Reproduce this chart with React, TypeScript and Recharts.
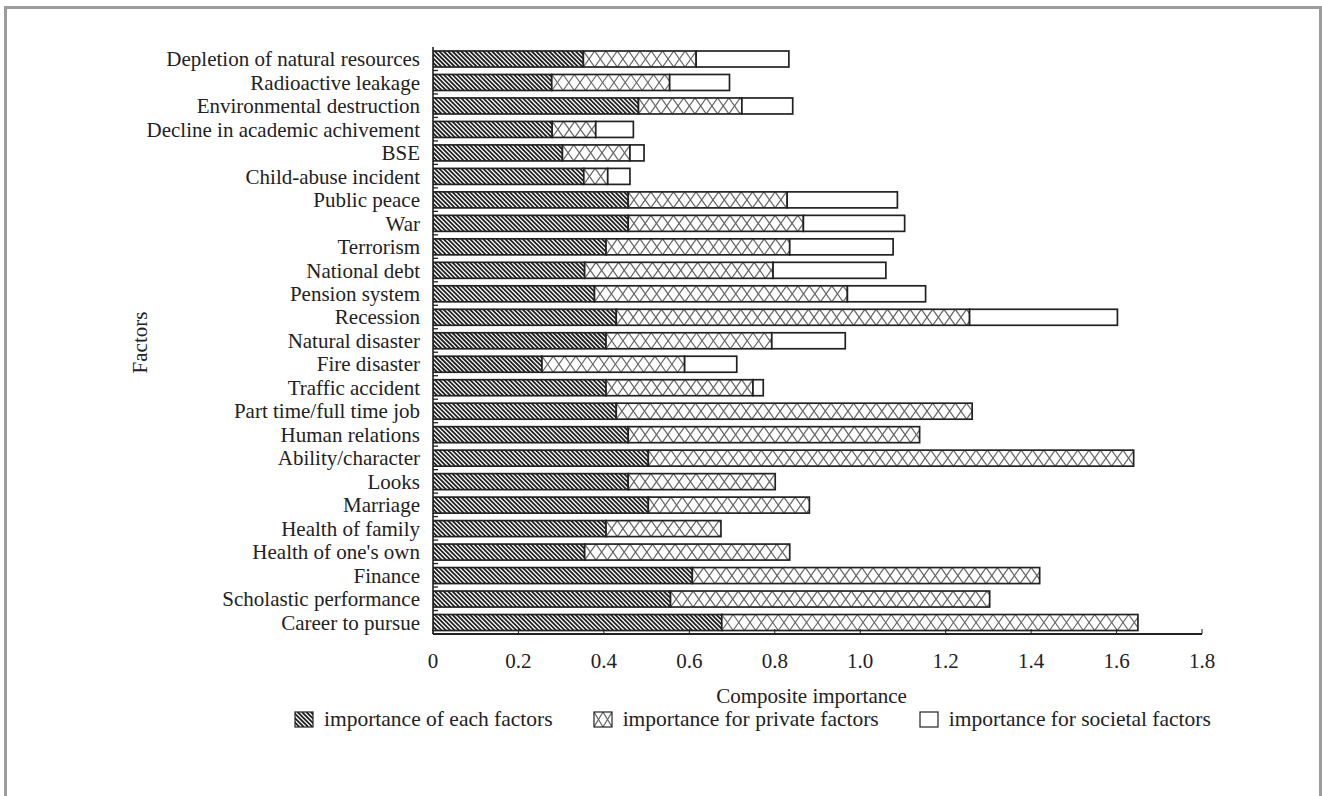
import { BarChart, Bar, XAxis, YAxis } from 'recharts';

const factors = [
  'Depletion of natural resources',
  'Radioactive leakage',
  'Environmental destruction',
  'Decline in academic achivement',
  'BSE',
  'Child-abuse incident',
  'Public peace',
  'War',
  'Terrorism',
  'National debt',
  'Pension system',
  'Recession',
  'Natural disaster',
  'Fire disaster',
  'Traffic accident',
  'Part time/full time job',
  'Human relations',
  'Ability/character',
  'Looks',
  'Marriage',
  'Health of family',
  "Health of one's own",
  'Finance',
  'Scholastic performance',
  'Career to pursue',
];

const eachFactor = [
  0.352, 0.278, 0.481, 0.279, 0.303, 0.353, 0.457, 0.457, 0.405, 0.355, 0.378, 0.429, 0.405,
  0.255, 0.405, 0.429, 0.457, 0.504, 0.457, 0.504, 0.405, 0.355, 0.607, 0.556, 0.676,
];
const privateFactor = [
  0.264, 0.276, 0.242, 0.102, 0.158, 0.056, 0.372, 0.41, 0.43, 0.441, 0.592, 0.827, 0.388,
  0.334, 0.344, 0.833, 0.682, 1.136, 0.344, 0.377, 0.269, 0.48, 0.813, 0.747, 0.974,
];
const societalFactor = [
  0.217, 0.14, 0.119, 0.088, 0.033, 0.052, 0.258, 0.237, 0.242, 0.264, 0.183, 0.346, 0.172,
  0.122, 0.024, 0, 0, 0, 0, 0, 0, 0, 0, 0, 0,
];
const xTicks = [0, 0.2, 0.4, 0.6, 0.8, 1.0, 1.2, 1.4, 1.6, 1.8];
const legendNames = [
  'importance of each factors',
  'importance for private factors',
  'importance for societal factors',
];

const data = factors.map((name, i) => ({
  name,
  each: eachFactor[i],
  priv: privateFactor[i],
  soc: societalFactor[i],
}));

const FONT = '"Liberation Serif", "Times New Roman", serif';
const INK = '#222';
const CAT_MARGIN = 13;

function diagLines(w: number, h: number) {
  const out = [];
  for (let k = -h; k < w + 1; k += 4.4) {
    out.push(<line key={k} x1={k} y1={0} x2={k + h} y2={h} stroke="#222" strokeWidth={1.8} />);
  }
  return out;
}

function crossLines(w: number, h: number, step: number) {
  const out = [];
  for (let i = 0; i * step < w; i++) {
    const a = i * step;
    const b = a + step;
    out.push(<line key={'a' + i} x1={a} y1={0} x2={b} y2={h} stroke="#666" strokeWidth={1.2} />);
    out.push(<line key={'b' + i} x1={b} y1={0} x2={a} y2={h} stroke="#666" strokeWidth={1.2} />);
  }
  return out;
}

function makeShape(kind: 'diag' | 'cross' | 'plain') {
  return (p: any) => {
    const { x, y, width, height } = p;
    if (!(width > 0.5)) return <g />;
    return (
      <g>
        <svg x={x} y={y} width={width} height={height} overflow="hidden">
          <rect x={0} y={0} width={width} height={height} fill="#fff" />
          {kind === 'diag' && diagLines(width, height)}
          {kind === 'cross' && crossLines(width, height, 11.3)}
        </svg>
        <rect x={x} y={y} width={width} height={height} fill="none" stroke={INK} strokeWidth={1.7} />
      </g>
    );
  };
}

// category label plus a short inward tick at the lower band boundary
function CatTick(p: any) {
  const { x, y, payload } = p;
  const off = payload && typeof payload.offset === 'number' ? payload.offset : 0;
  const ax = x + CAT_MARGIN;
  return (
    <g>
      <text x={x} y={y} dy="0.355em" textAnchor="end" fill={INK} fontSize={21} fontFamily={FONT}>
        {payload.value}
      </text>
      {off > 0 && (
        <line x1={ax} x2={ax + 5} y1={y + off} y2={y + off} stroke={INK} strokeWidth={1.3} />
      )}
    </g>
  );
}

function LegendIcon({ kind }: { kind: 'diag' | 'cross' | 'plain' }) {
  const w = 18;
  const h = 15;
  return (
    <svg width={w + 2} height={h + 2} style={{ marginRight: 10, display: 'block' }}>
      <svg x={1} y={1} width={w} height={h} overflow="hidden">
        <rect width={w} height={h} fill="#fff" />
        {kind === 'diag' && diagLines(w, h)}
        {kind === 'cross' && crossLines(w, h, 9)}
      </svg>
      <rect x={1} y={1} width={w} height={h} fill="none" stroke={INK} strokeWidth={1.2} />
    </svg>
  );
}

const kinds: ('diag' | 'cross' | 'plain')[] = ['diag', 'cross', 'plain'];

export default function App() {
  return (
    <div
      style={{
        position: 'fixed',
        left: 0,
        top: 0,
        width: 1322,
        height: 796,
        overflow: 'hidden',
        background: '#fff',
        fontFamily: FONT,
      }}
    >
      <div
        style={{
          position: 'absolute',
          left: 4,
          top: 6,
          width: 1318,
          height: 900,
          border: '3px solid #9c9c9c',
          boxSizing: 'border-box',
        }}
      />
      <div style={{ position: 'absolute', left: 0, top: 0 }}>
        <BarChart
          width={1322}
          height={740}
          data={data}
          layout="vertical"
          margin={{ top: 47, right: 120, left: 0, bottom: 0 }}
          barSize={16}
        >
          <YAxis
            type="category"
            dataKey="name"
            width={433}
            interval={0}
            tickLine={false}
            tickSize={0}
            tickMargin={CAT_MARGIN}
            axisLine={{ stroke: INK, strokeWidth: 1.6 }}
            tick={CatTick}
            label={{
              content: (props: any) => {
                const vb = props.viewBox || { x: 0, y: 0, width: 0, height: 0 };
                const cx = vb.x + 140;
                const cy = vb.y + vb.height / 2 + 2;
                return (
                  <text
                    x={cx}
                    y={cy}
                    transform={`rotate(-90, ${cx}, ${cy})`}
                    textAnchor="middle"
                    dominantBaseline="central"
                    fill={INK}
                    fontSize={21}
                    fontFamily={FONT}
                  >
                    Factors
                  </text>
                );
              },
            }}
          />
          <YAxis
            yAxisId="right"
            orientation="right"
            type="number"
            domain={[0, 1]}
            width={0}
            tick={false}
            tickLine={false}
            axisLine={{ stroke: INK, strokeWidth: 1.6 }}
          />
          <XAxis
            type="number"
            domain={[0, 1.8]}
            ticks={xTicks}
            height={106}
            tickSize={-5}
            tickMargin={24}
            tickLine={{ stroke: INK, strokeWidth: 1 }}
            axisLine={{ stroke: INK, strokeWidth: 1.8 }}
            tick={{ fill: INK, fontSize: 21, fontFamily: FONT }}
            tickFormatter={(v: number) => (v === 0 ? '0' : v.toFixed(1))}
            allowDataOverflow
            label={{
              content: (props: any) => {
                const vb = props.viewBox || { x: 0, y: 0, width: 0, height: 0 };
                return (
                  <text
                    x={vb.x + vb.width / 2 - 6}
                    y={vb.y + 69}
                    textAnchor="middle"
                    fill={INK}
                    fontSize={21}
                    fontFamily={FONT}
                  >
                    Composite importance
                  </text>
                );
              },
            }}
          />
          <XAxis
            xAxisId="top"
            orientation="top"
            type="number"
            domain={[0, 1.8]}
            height={0}
            tick={false}
            tickLine={false}
            axisLine={{ stroke: '#444', strokeWidth: 1.3 }}
          />
          <Bar dataKey="each" stackId="s" shape={makeShape('diag')} isAnimationActive={false} />
          <Bar dataKey="priv" stackId="s" shape={makeShape('cross')} isAnimationActive={false} />
          <Bar dataKey="soc" stackId="s" shape={makeShape('plain')} isAnimationActive={false} />
        </BarChart>
      </div>
      <div
        style={{
          position: 'absolute',
          left: 294,
          top: 708,
          display: 'flex',
          alignItems: 'center',
          gap: 40,
          fontSize: 21.5,
          lineHeight: '22px',
          color: INK,
          whiteSpace: 'nowrap',
        }}
      >
        {legendNames.map((n, i) => (
          <div key={n} style={{ display: 'flex', alignItems: 'center' }}>
            <LegendIcon kind={kinds[i]} />
            <span>{n}</span>
          </div>
        ))}
      </div>
    </div>
  );
}
